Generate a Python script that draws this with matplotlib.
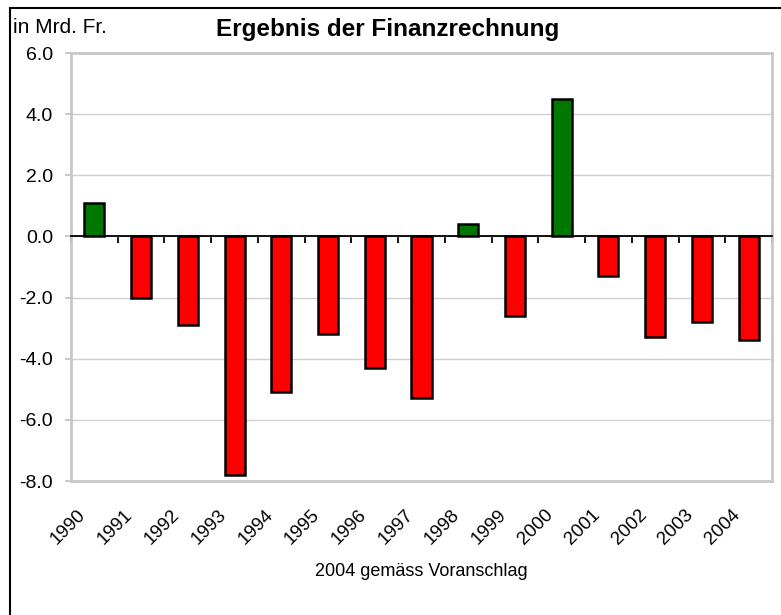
import matplotlib
matplotlib.use("Agg")
import matplotlib.pyplot as plt
from matplotlib.patches import Rectangle
from matplotlib.transforms import ScaledTranslation
import numpy as np

plt.rcParams['font.family'] = ['Liberation Sans', 'DejaVu Sans']

years = ["1990", "1991", "1992", "1993", "1994", "1995", "1996", "1997",
         "1998", "1999", "2000", "2001", "2002", "2003", "2004"]
values = [1.1, -2.0, -2.9, -7.8, -5.1, -3.2, -4.3, -5.3,
          0.4, -2.6, 4.5, -1.3, -3.3, -2.8, -3.4]
yticks = [6.0, 4.0, 2.0, 0.0, -2.0, -4.0, -6.0, -8.0]

W, H = 781, 615
fig = plt.figure(figsize=(W / 100, H / 100), dpi=100)
ax = fig.add_axes([71 / W, 1 - 481 / H, (772 - 71) / W, (481 - 53) / H])

x = np.arange(len(years))
colors = ['#007800' if v >= 0 else '#ff0000' for v in values]
ax.bar(x, values, width=0.43, color=colors, edgecolor='black', linewidth=1.8, zorder=3)

ax.set_xlim(-0.5, len(years) - 0.5)
ax.set_ylim(-8, 6)
ax.set_yticks(yticks)
ax.set_yticklabels([f"{t:.1f}" for t in yticks], fontsize=14)
ax.yaxis.grid(True, color='#d0d0d0', linewidth=1, zorder=0)
ax.tick_params(axis='y', length=4.5, color='#c0c0c0', width=1.2, pad=8.5)

for s in ['left', 'top', 'right']:
    ax.spines[s].set_color('#c8c8c8')
    ax.spines[s].set_linewidth(2)
ax.spines['bottom'].set_position(('data', 0))
ax.spines['bottom'].set_color('black')
ax.spines['bottom'].set_linewidth(1.3)
ax.spines['bottom'].set_zorder(4)
ax.set_xticks(np.arange(len(years) + 1) - 0.5)
ax.tick_params(axis='x', direction='out', length=5, width=1.3, color='black', labelbottom=False)

sec = ax.secondary_xaxis(0)
sec.set_xticks(x)
sec.set_xticklabels(years, rotation=45, ha='right', va='top', fontsize=13.5)
sec.tick_params(length=0, pad=18)
sec.spines['bottom'].set_color('#c8c8c8')
sec.spines['bottom'].set_linewidth(2)
off = ScaledTranslation(-0.05, 0, fig.dpi_scale_trans)
for lab in sec.get_xticklabels():
    lab.set_transform(lab.get_transform() + off)

fig.text(388 / W, 1 - 36 / H, "Ergebnis der Finanzrechnung", ha='center', va='baseline',
         fontsize=17.5, fontweight='bold')
fig.text(13 / W, 1 - 33 / H, "in Mrd. Fr.", ha='left', va='baseline', fontsize=15)
fig.text(421 / W, 1 - 572 / H, "2004 gemäss Voranschlag", ha='center', va='center', fontsize=13)

fig.patches.append(Rectangle((10 / W, -0.1), 1.2, 1 - 8 / H + 0.1, transform=fig.transFigure,
                             fill=False, edgecolor='black', linewidth=1.5))

fig.savefig("out.png", dpi=100)
